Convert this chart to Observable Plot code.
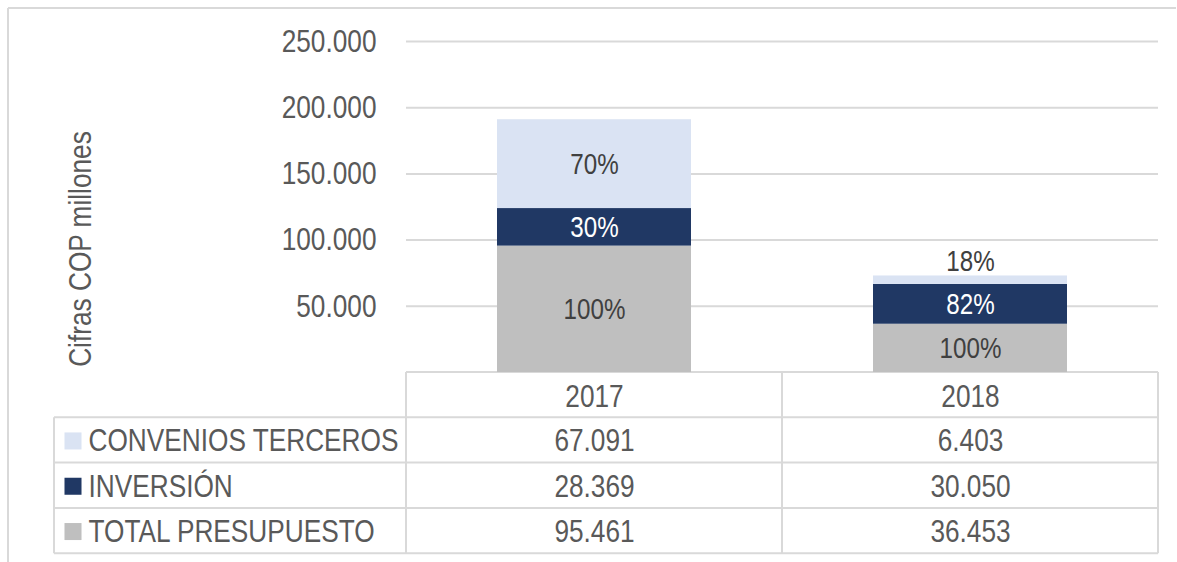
<!DOCTYPE html>
<html>
<head>
<meta charset="utf-8">
<script src="https://cdn.jsdelivr.net/npm/d3@7"></script>
<script src="https://cdn.jsdelivr.net/npm/@observablehq/plot@0.6"></script>
<style>
  html, body { margin: 0; padding: 0; background: #fff; }
  #chart { position: relative; width: 1177px; height: 562px; overflow: hidden; }
</style>
</head>
<body>
<div id="chart"></div>
<script>
// ---- data ----
const years = ["2017", "2018"];
const series = ["TOTAL PRESUPUESTO", "INVERSIÓN", "CONVENIOS TERCEROS"]; // stack order, bottom-up
const seriesColors = ["#BFBFBF", "#203864", "#DAE3F3"];
const totalPresupuesto = [95461, 36453];
const inversion = [28369, 30050];
const conveniosTerceros = [67091, 6403];
const pctTotal = ["100%", "100%"];
const pctInversion = ["30%", "82%"];
const pctConvenios = ["70%", "18%"];
const yTicks = [50000, 100000, 150000, 200000, 250000];
const tableRows = ["CONVENIOS TERCEROS", "INVERSIÓN", "TOTAL PRESUPUESTO"]; // table order, top-down
const yTitle = "Cifras COP millones";

// ---- build table ----
const valuesBySeries = [totalPresupuesto, inversion, conveniosTerceros];
const pctBySeries = [pctTotal, pctInversion, pctConvenios];
const colorOf = Object.fromEntries(series.map((s, i) => [s, seriesColors[i]]));
const data = [];
years.forEach((yr, j) => {
  series.forEach((s, i) => {
    data.push({year: yr, series: s, value: valuesBySeries[i][j], pct: pctBySeries[i][j]});
  });
});

const fmt = d3.formatLocale({decimal: ",", thousands: ".", grouping: [3], currency: ["", ""]}).format(",d");
const FONT = "'Liberation Sans',Arial,sans-serif";
const NARROW = 0.82; // emulate a narrow face
const axisGrey = "#595959";
const labelGrey = "#404040";
const rowH = 45.3;
const small = d => d.value < 15000; // segment too thin to hold its label

const tableMarks = [];
tableRows.forEach((s, r) => {
  const dy = rowH * (r + 1) + rowH / 2 + 0.5;
  tableMarks.push(
    Plot.text(data.filter(d => d.series === s), {
      x: "year", text: d => fmt(d.value), frameAnchor: "bottom", dy,
      lineAnchor: "middle", textAnchor: "middle", fill: axisGrey
    }),
    Plot.text([s], {
      frameAnchor: "bottom-left", dx: -318, dy, text: d => d,
      textAnchor: "start", lineAnchor: "middle", fill: axisGrey
    }),
    Plot.dot([s], {
      frameAnchor: "bottom-left", dx: -333.5, dy, symbol: "square", r: 9.6,
      fill: d => colorOf[d], stroke: null
    })
  );
});

const plot = Plot.plot({
  width: 1177,
  height: 562,
  marginLeft: 406,
  marginRight: 19,
  marginTop: 41,
  marginBottom: 190,
  style: {fontFamily: FONT, fontSize: "32px", color: axisGrey, background: "transparent"},
  x: {domain: years, paddingInner: 0.484, paddingOuter: 0.242, axis: null},
  y: {domain: [0, 250000], axis: null},
  color: {type: "identity"},
  marks: [
    Plot.ruleY(yTicks, {stroke: "#d9d9d9", strokeWidth: 2}),
    Plot.text(yTicks, {y: d => d, text: d => fmt(d), frameAnchor: "left", dx: -30,
      textAnchor: "end", lineAnchor: "middle", fill: axisGrey}),
    Plot.text([yTitle], {frameAnchor: "left", dx: -326, dy: 42, rotate: -90, text: d => d,
      textAnchor: "middle", lineAnchor: "middle", fill: axisGrey}),
    Plot.barY(data, {x: "year", y: "value", fill: d => colorOf[d.series]}),
    Plot.text(data, Plot.stackY({
      x: "year", y: "value",
      text: d => small(d) ? "" : d.pct,
      fontSize: 29.5,
      fill: d => d.series === "INVERSIÓN" ? "#ffffff" : labelGrey
    })),
    Plot.text(data, Plot.stackY2({
      x: "year", y: "value",
      text: d => small(d) ? d.pct : "",
      fontSize: 29.5,
      dy: -14, fill: labelGrey
    })),
    Plot.text(years, {x: d => d, text: d => d, frameAnchor: "bottom", dy: 24,
      lineAnchor: "middle", fill: axisGrey}),
    ...tableMarks
  ]
});

document.getElementById("chart").appendChild(plot);

// ---- narrow every text horizontally around its own anchor point ----
d3.select(plot).selectAll("text").each(function () {
  const b = this.getBBox();
  if (!b.width) return;
  const anchor = getComputedStyle(this).textAnchor;
  const ax = anchor === "middle" ? b.x + b.width / 2 : anchor === "end" ? b.x + b.width : b.x;
  const tr = this.getAttribute("transform") || "";
  this.setAttribute("transform", `${tr} translate(${ax},0) scale(${NARROW},1) translate(${-ax},0)`);
});

// ---- table grid & outer frame, derived from the scales ----
const xs = plot.scale("x");
const ys = plot.scale("y");
const svg = d3.select(plot);
const left = xs.range[0], right = xs.range[1];
const mid = (left + right) / 2;
const y0 = ys.apply(0);
const legendLeft = left - 352;
const g = svg.insert("g", ":first-child").attr("stroke", "#d9d9d9").attr("stroke-width", 2).attr("fill", "none");
const line = (x1, y1, x2, y2) => g.append("line").attr("x1", x1).attr("y1", y1).attr("x2", x2).attr("y2", y2);
line(left, y0, right, y0);
for (let r = 1; r <= 4; r++) line(legendLeft, y0 + rowH * r, right, y0 + rowH * r);
[left, mid, right].forEach(x => line(x, y0, x, y0 + rowH * 4));
line(legendLeft, y0 + rowH, legendLeft, y0 + rowH * 4);
// outer chart frame
line(8, 8, 1176, 8);
line(8, 8, 8, 562);
</script>
</body>
</html>
